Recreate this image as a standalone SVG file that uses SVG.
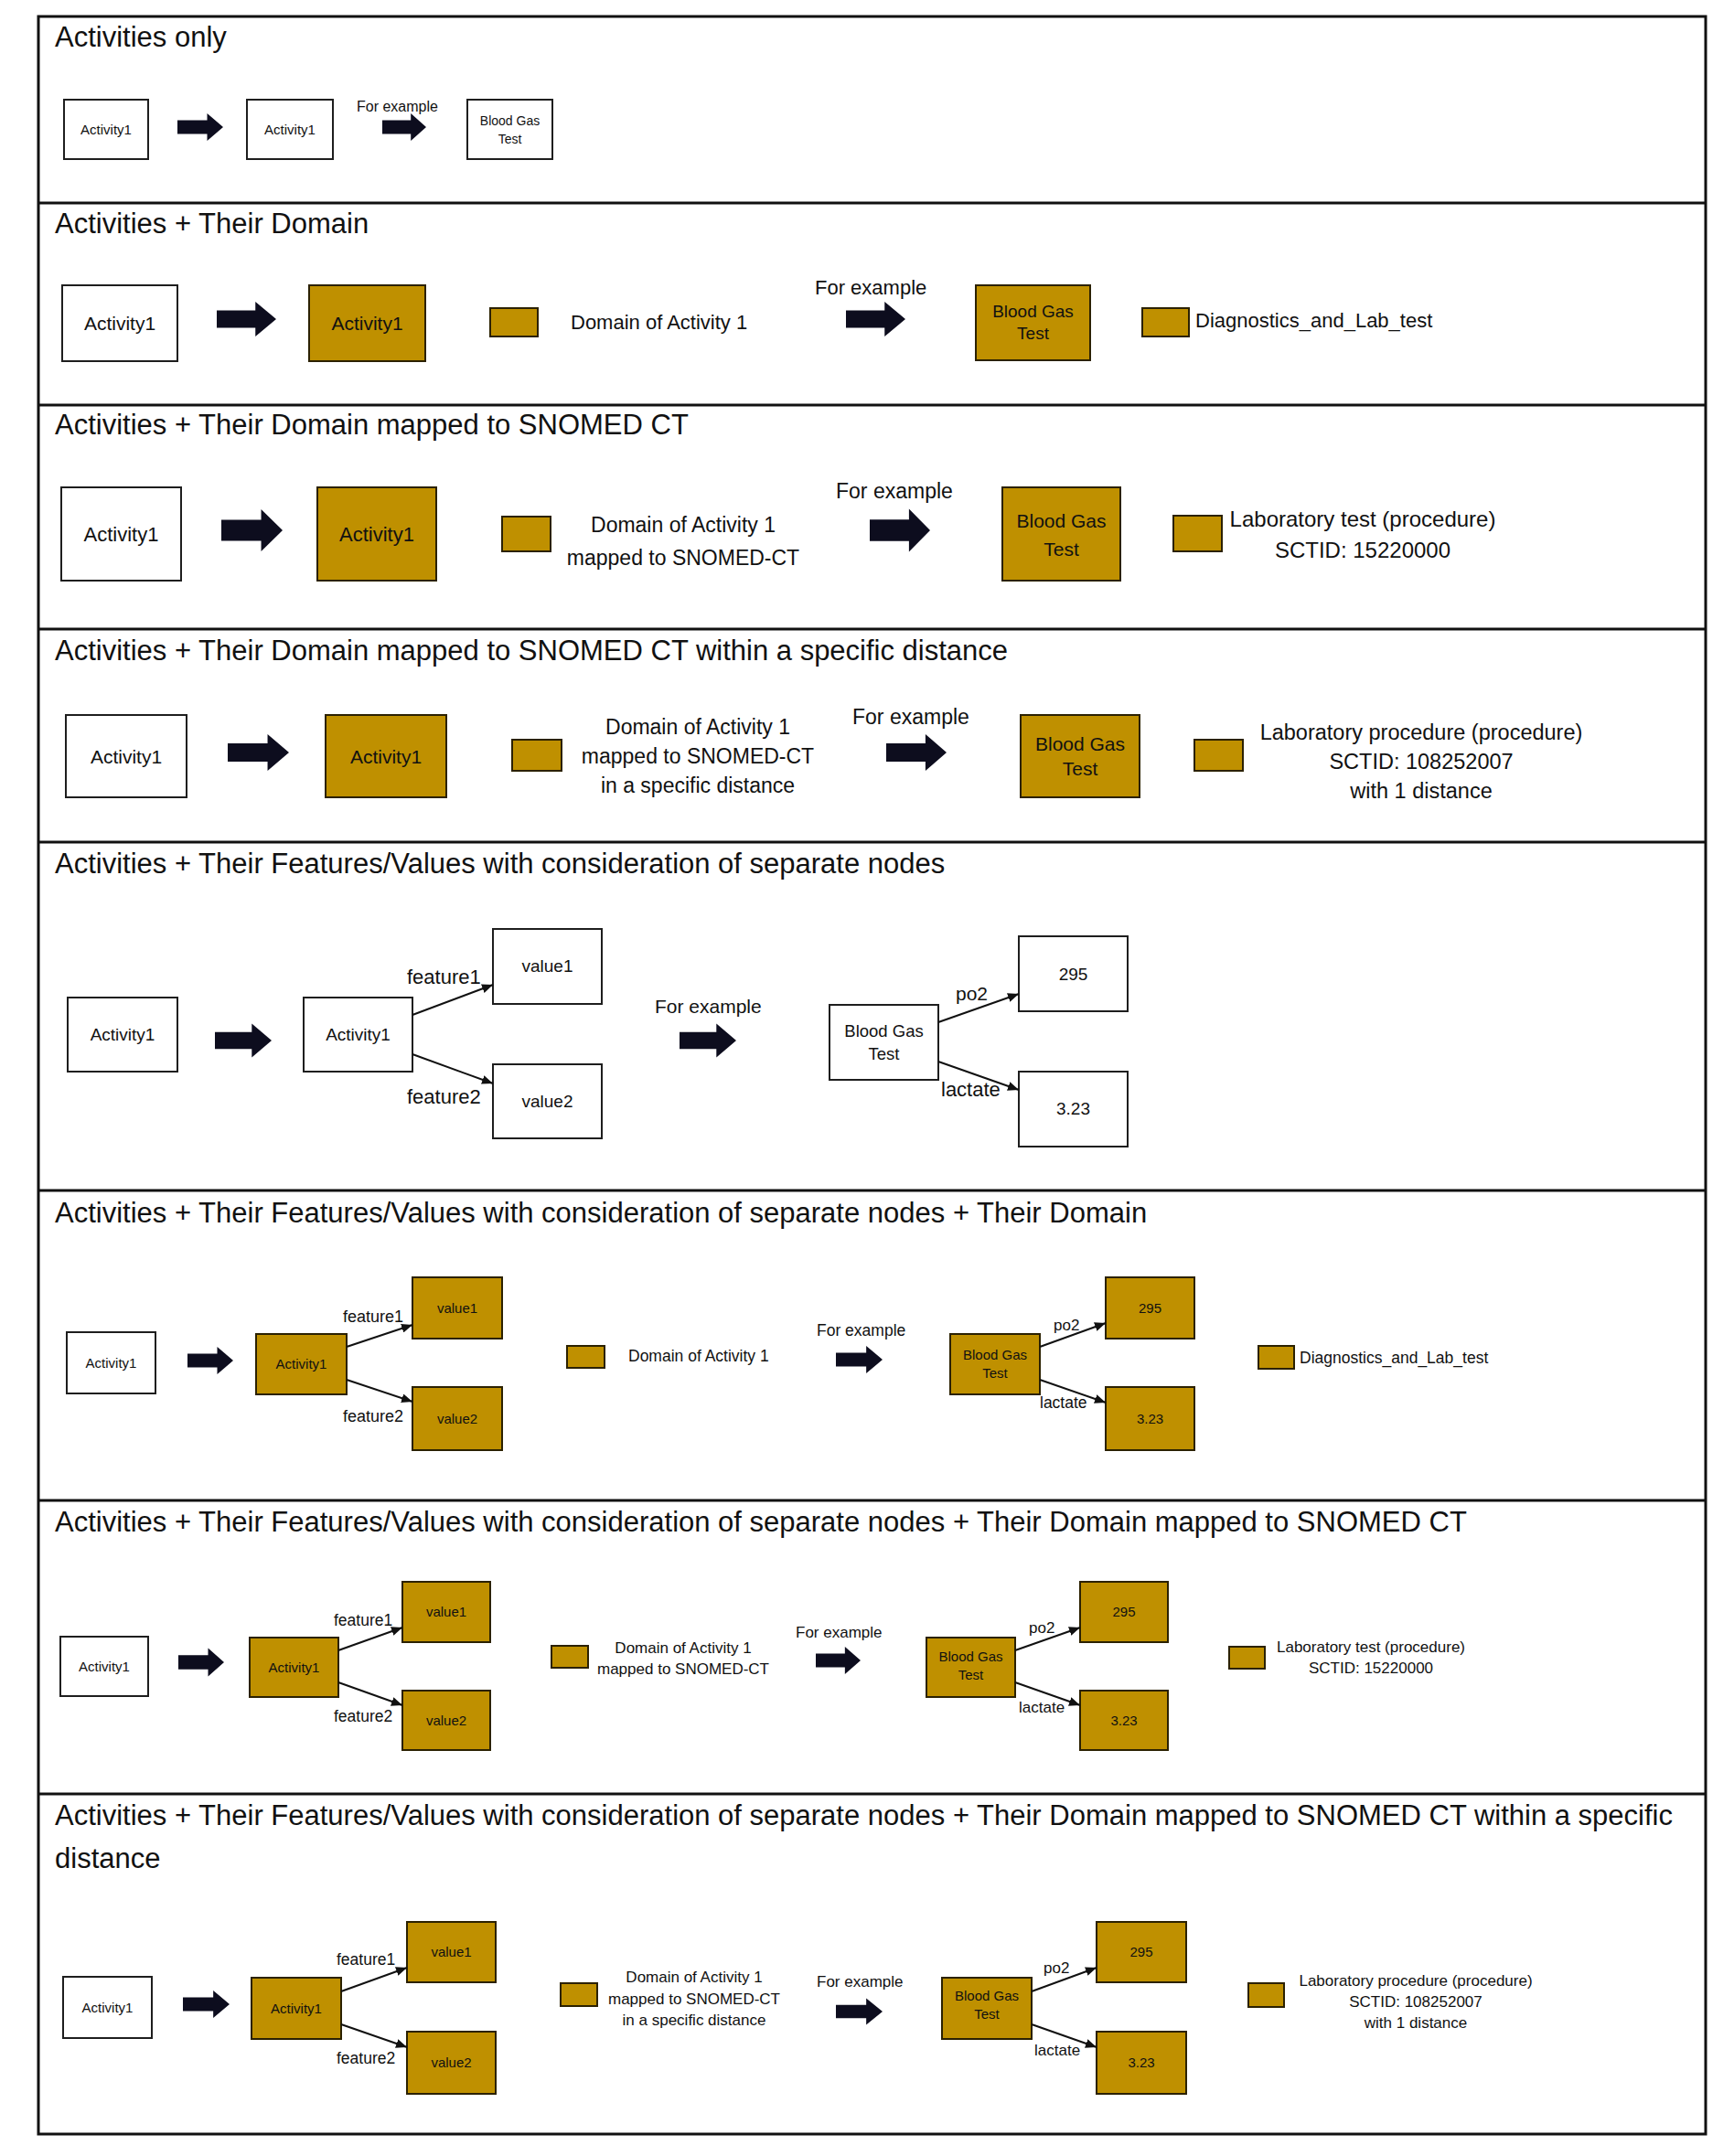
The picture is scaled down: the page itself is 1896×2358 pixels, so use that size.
<svg xmlns="http://www.w3.org/2000/svg" width="1896" height="2358" viewBox="0 0 1896 2358">
<defs>
<style>
text{font-family:"Liberation Sans",Arial,sans-serif;fill:#111}
.title{font-size:31px}
.m{text-anchor:middle}
.w{fill:#fff;stroke:#1e1e1e;stroke-width:2}
.g{fill:#BF9000;stroke:#2b2100;stroke-width:2}
.blk{fill:#0d0d1e}
.e{stroke:#111;stroke-width:2;fill:none;marker-end:url(#ah)}
.div{stroke:#111;stroke-width:3}
</style>
<marker id="ah" viewBox="0 0 12 10" refX="12" refY="5" markerWidth="12" markerHeight="10" markerUnits="userSpaceOnUse" orient="auto">
<path d="M0,0 L12,5 L0,10 z" fill="#111"/>
</marker>
<path id="ba" d="M0,-25 H65 V-50 L100,0 L65,50 V25 H0 Z"/>
</defs>
<rect width="1896" height="2358" fill="#fff"/>
<g id="frame">
<rect x="42" y="18" width="1823" height="2316" fill="none" stroke="#111" stroke-width="3"/>
<line class="div" x1="42" y1="222" x2="1865" y2="222"/>
<line class="div" x1="42" y1="443" x2="1865" y2="443"/>
<line class="div" x1="42" y1="688" x2="1865" y2="688"/>
<line class="div" x1="42" y1="921" x2="1865" y2="921"/>
<line class="div" x1="42" y1="1302" x2="1865" y2="1302"/>
<line class="div" x1="42" y1="1641" x2="1865" y2="1641"/>
<line class="div" x1="42" y1="1962" x2="1865" y2="1962"/>
</g>
<g id="titles">
<text class="title" x="60" y="51">Activities only</text>
<text class="title" x="60" y="255">Activities + Their Domain</text>
<text class="title" x="60" y="475">Activities + Their Domain mapped to SNOMED CT</text>
<text class="title" x="60" y="722">Activities + Their Domain mapped to SNOMED CT within a specific distance</text>
<text class="title" x="60" y="955">Activities + Their Features/Values with consideration of separate nodes</text>
<text class="title" x="60" y="1337">Activities + Their Features/Values with consideration of separate nodes + Their Domain</text>
<text class="title" x="60" y="1675">Activities + Their Features/Values with consideration of separate nodes + Their Domain mapped to SNOMED CT</text>
<text class="title" x="60" y="1996">Activities + Their Features/Values with consideration of separate nodes + Their Domain mapped to SNOMED CT within a specific</text>
<text class="title" x="60" y="2043">distance</text>
</g>

<!-- Section 1 -->
<g id="s1-act"><rect class="w" x="70" y="109" width="92" height="65"/><text class="m" x="116" y="147" font-size="15">Activity1</text></g>
<g id="s1-act2"><rect class="w" x="270" y="109" width="94" height="65"/><text class="m" x="317" y="147" font-size="15">Activity1</text></g>
<g id="s1-bgt"><rect class="w" x="511" y="109" width="93" height="65"/><text class="m" x="557.5" y="137" font-size="14">Blood Gas</text><text class="m" x="557.5" y="157" font-size="14">Test</text></g>
<text x="390" y="122" font-size="16">For example</text>

<!-- Section 2 -->
<g id="s2-act"><rect class="w" x="68" y="312" width="126" height="83"/><text class="m" x="131" y="361" font-size="21">Activity1</text></g>
<g id="s2-act2"><rect class="g" x="338" y="312" width="127" height="83"/><text class="m" x="401.5" y="361" font-size="21">Activity1</text></g>
<g id="s2-legend"><rect class="g" x="536" y="337" width="52" height="31"/><text x="624" y="360" font-size="22">Domain of Activity 1</text></g>
<text x="891" y="322" font-size="22">For example</text>
<g id="s2-bgt"><rect class="g" x="1067" y="312" width="125" height="82"/><text class="m" x="1129.5" y="347" font-size="19">Blood Gas</text><text class="m" x="1129.5" y="371" font-size="19">Test</text></g>
<g id="s2-legend2"><rect class="g" x="1249" y="337" width="51" height="31"/><text x="1307" y="358" font-size="22">Diagnostics_and_Lab_test</text></g>

<!-- Section 3 -->
<g id="s3-act"><rect class="w" x="67" y="533" width="131" height="102"/><text class="m" x="132.5" y="592" font-size="22">Activity1</text></g>
<g id="s3-act2"><rect class="g" x="347" y="533" width="130" height="102"/><text class="m" x="412" y="592" font-size="22">Activity1</text></g>
<g id="s3-legend"><rect class="g" x="549" y="565" width="53" height="38"/><text class="m" x="747" y="582" font-size="23">Domain of Activity 1</text><text class="m" x="747" y="618" font-size="23">mapped to SNOMED-CT</text></g>
<text x="914" y="545" font-size="23">For example</text>
<g id="s3-bgt"><rect class="g" x="1096" y="533" width="129" height="102"/><text class="m" x="1160.5" y="577" font-size="21">Blood Gas</text><text class="m" x="1160.5" y="608" font-size="21">Test</text></g>
<g id="s3-legend2"><rect class="g" x="1283" y="564" width="53" height="39"/><text class="m" x="1490" y="576" font-size="24">Laboratory test (procedure)</text><text class="m" x="1490" y="610" font-size="24">SCTID: 15220000</text></g>

<!-- Section 4 -->
<g id="s4-act"><rect class="w" x="72" y="782" width="132" height="90"/><text class="m" x="138" y="835" font-size="21">Activity1</text></g>
<g id="s4-act2"><rect class="g" x="356" y="782" width="132" height="90"/><text class="m" x="422" y="835" font-size="21">Activity1</text></g>
<g id="s4-legend"><rect class="g" x="560" y="809" width="54" height="34"/><text class="m" x="763" y="803" font-size="23">Domain of Activity 1</text><text class="m" x="763" y="835" font-size="23">mapped to SNOMED-CT</text><text class="m" x="763" y="867" font-size="23">in a specific distance</text></g>
<text x="932" y="792" font-size="23">For example</text>
<g id="s4-bgt"><rect class="g" x="1116" y="782" width="130" height="90"/><text class="m" x="1181" y="821" font-size="21">Blood Gas</text><text class="m" x="1181" y="848" font-size="21">Test</text></g>
<g id="s4-legend2"><rect class="g" x="1306" y="809" width="53" height="34"/><text class="m" x="1554" y="809" font-size="23.5">Laboratory procedure (procedure)</text><text class="m" x="1554" y="841" font-size="23.5">SCTID: 108252007</text><text class="m" x="1554" y="873" font-size="23.5">with 1 distance</text></g>

<!-- Section 5 -->
<g id="s5-act"><rect class="w" x="74" y="1091" width="120" height="81"/><text class="m" x="134" y="1138" font-size="19">Activity1</text></g>
<g id="s5-act2"><rect class="w" x="332" y="1091" width="119" height="81"/><text class="m" x="391.5" y="1138" font-size="19">Activity1</text></g>
<g id="s5-v1"><rect class="w" x="539" y="1016" width="119" height="82"/><text class="m" x="598.5" y="1063" font-size="19">value1</text></g>
<g id="s5-v2"><rect class="w" x="539" y="1164" width="119" height="81"/><text class="m" x="598.5" y="1211" font-size="19">value2</text></g>
<text x="716" y="1108" font-size="21">For example</text>
<g id="s5-bgt"><rect class="w" x="907" y="1099" width="119" height="82"/><text class="m" x="966.5" y="1134" font-size="18.5">Blood Gas</text><text class="m" x="966.5" y="1159" font-size="18.5">Test</text></g>
<g id="s5-295"><rect class="w" x="1114" y="1024" width="119" height="82"/><text class="m" x="1173.5" y="1072" font-size="19">295</text></g>
<g id="s5-323"><rect class="w" x="1114" y="1172" width="119" height="82"/><text class="m" x="1173.5" y="1219" font-size="19">3.23</text></g>

<!-- Section 6 -->
<g id="s6-act"><rect class="w" x="73" y="1457" width="97" height="67"/><text class="m" x="121.5" y="1496" font-size="15">Activity1</text></g>
<g id="s6-act2"><rect class="g" x="280" y="1459" width="99" height="66"/><text class="m" x="329.5" y="1497" font-size="15">Activity1</text></g>
<g id="s6-v1"><rect class="g" x="451" y="1397" width="98" height="67"/><text class="m" x="500" y="1436" font-size="15">value1</text></g>
<g id="s6-v2"><rect class="g" x="451" y="1517" width="98" height="69"/><text class="m" x="500" y="1557" font-size="15">value2</text></g>
<g id="s6-legend"><rect class="g" x="620" y="1472" width="41" height="24"/><text x="687" y="1489" font-size="17.5">Domain of Activity 1</text></g>
<text x="893" y="1461" font-size="17.5">For example</text>
<g id="s6-bgt"><rect class="g" x="1039" y="1459" width="98" height="66"/><text class="m" x="1088" y="1487" font-size="15">Blood Gas</text><text class="m" x="1088" y="1507" font-size="15">Test</text></g>
<g id="s6-295"><rect class="g" x="1209" y="1397" width="97" height="67"/><text class="m" x="1257.5" y="1436" font-size="15">295</text></g>
<g id="s6-323"><rect class="g" x="1209" y="1517" width="97" height="69"/><text class="m" x="1257.5" y="1557" font-size="15">3.23</text></g>
<g id="s6-legend2"><rect class="g" x="1376" y="1472" width="39" height="25"/><text x="1421" y="1491" font-size="17.5">Diagnostics_and_Lab_test</text></g>

<!-- Section 7 -->
<g id="s7-act"><rect class="w" x="66" y="1790" width="96" height="65"/><text class="m" x="114" y="1828" font-size="15">Activity1</text></g>
<g id="s7-act2"><rect class="g" x="273" y="1791" width="97" height="65"/><text class="m" x="321.5" y="1829" font-size="15">Activity1</text></g>
<g id="s7-v1"><rect class="g" x="440" y="1730" width="96" height="66"/><text class="m" x="488" y="1768" font-size="15">value1</text></g>
<g id="s7-v2"><rect class="g" x="440" y="1849" width="96" height="65"/><text class="m" x="488" y="1887" font-size="15">value2</text></g>
<g id="s7-legend"><rect class="g" x="603" y="1800" width="40" height="24"/><text class="m" x="747" y="1808" font-size="17">Domain of Activity 1</text><text class="m" x="747" y="1831" font-size="17">mapped to SNOMED-CT</text></g>
<text x="870" y="1791" font-size="17">For example</text>
<g id="s7-bgt"><rect class="g" x="1013" y="1791" width="97" height="65"/><text class="m" x="1061.5" y="1817" font-size="15">Blood Gas</text><text class="m" x="1061.5" y="1837" font-size="15">Test</text></g>
<g id="s7-295"><rect class="g" x="1181" y="1730" width="96" height="66"/><text class="m" x="1229" y="1768" font-size="15">295</text></g>
<g id="s7-323"><rect class="g" x="1181" y="1849" width="96" height="65"/><text class="m" x="1229" y="1887" font-size="15">3.23</text></g>
<g id="s7-legend2"><rect class="g" x="1344" y="1801" width="39" height="24"/><text class="m" x="1499" y="1807" font-size="17">Laboratory test (procedure)</text><text class="m" x="1499" y="1830" font-size="17">SCTID: 15220000</text></g>

<!-- Section 8 -->
<g id="s8-act"><rect class="w" x="69" y="2162" width="97" height="67"/><text class="m" x="117.5" y="2201" font-size="15">Activity1</text></g>
<g id="s8-act2"><rect class="g" x="275" y="2163" width="98" height="67"/><text class="m" x="324" y="2202" font-size="15">Activity1</text></g>
<g id="s8-v1"><rect class="g" x="445" y="2102" width="97" height="66"/><text class="m" x="493.5" y="2140" font-size="15">value1</text></g>
<g id="s8-v2"><rect class="g" x="445" y="2222" width="97" height="68"/><text class="m" x="493.5" y="2261" font-size="15">value2</text></g>
<g id="s8-legend"><rect class="g" x="613" y="2169" width="40" height="25"/><text class="m" x="759" y="2168" font-size="17">Domain of Activity 1</text><text class="m" x="759" y="2192" font-size="17">mapped to SNOMED-CT</text><text class="m" x="759" y="2215" font-size="17">in a specific distance</text></g>
<text x="893" y="2173" font-size="17">For example</text>
<g id="s8-bgt"><rect class="g" x="1030" y="2163" width="98" height="67"/><text class="m" x="1079" y="2188" font-size="15">Blood Gas</text><text class="m" x="1079" y="2208" font-size="15">Test</text></g>
<g id="s8-295"><rect class="g" x="1199" y="2102" width="98" height="66"/><text class="m" x="1248" y="2140" font-size="15">295</text></g>
<g id="s8-323"><rect class="g" x="1199" y="2222" width="98" height="68"/><text class="m" x="1248" y="2261" font-size="15">3.23</text></g>
<g id="s8-legend2"><rect class="g" x="1365" y="2169" width="39" height="26"/><text class="m" x="1548" y="2172" font-size="17">Laboratory procedure (procedure)</text><text class="m" x="1548" y="2195" font-size="17">SCTID: 108252007</text><text class="m" x="1548" y="2218" font-size="17">with 1 distance</text></g>

<g id="connectors">
<g class="blk">
<use href="#ba" transform="translate(194,139) scale(0.5,0.3)"/>
<use href="#ba" transform="translate(418,139) scale(0.48,0.3)"/>
<use href="#ba" transform="translate(237,349) scale(0.65,0.38)"/>
<use href="#ba" transform="translate(925,349) scale(0.65,0.38)"/>
<use href="#ba" transform="translate(242,580) scale(0.67,0.46)"/>
<use href="#ba" transform="translate(951,580) scale(0.66,0.47)"/>
<use href="#ba" transform="translate(249,823) scale(0.67,0.40)"/>
<use href="#ba" transform="translate(969,823) scale(0.66,0.40)"/>
<use href="#ba" transform="translate(235,1138) scale(0.62,0.37)"/>
<use href="#ba" transform="translate(743,1138) scale(0.62,0.37)"/>
<use href="#ba" transform="translate(205,1488) scale(0.5,0.30)"/>
<use href="#ba" transform="translate(914,1487) scale(0.51,0.30)"/>
<use href="#ba" transform="translate(195,1818) scale(0.5,0.31)"/>
<use href="#ba" transform="translate(892,1816) scale(0.49,0.30)"/>
<use href="#ba" transform="translate(200,2192) scale(0.51,0.30)"/>
<use href="#ba" transform="translate(914,2200) scale(0.51,0.29)"/>
</g>
<path class="e" d="M451,1110 L539,1077"/>
<path class="e" d="M451,1153 L539,1185"/>
<path class="e" d="M1026,1118 L1114,1087"/>
<path class="e" d="M1026,1161 L1114,1192"/>
<path class="e" d="M379,1473 L451,1449"/>
<path class="e" d="M379,1509 L451,1533"/>
<path class="e" d="M1137,1473 L1209,1447"/>
<path class="e" d="M1137,1509 L1209,1534"/>
<path class="e" d="M370,1805 L440,1780"/>
<path class="e" d="M370,1840 L440,1865"/>
<path class="e" d="M1110,1805 L1181,1780"/>
<path class="e" d="M1110,1840 L1181,1865"/>
<path class="e" d="M373,2178 L445,2152"/>
<path class="e" d="M373,2214 L445,2239"/>
<path class="e" d="M1128,2178 L1199,2152"/>
<path class="e" d="M1128,2214 L1199,2239"/>
<text x="445" y="1076" font-size="22">feature1</text>
<text x="445" y="1207" font-size="22">feature2</text>
<text x="1045" y="1094" font-size="21">po2</text>
<text x="1029" y="1199" font-size="22">lactate</text>
<text x="375" y="1446" font-size="18">feature1</text>
<text x="375" y="1555" font-size="18">feature2</text>
<text x="1152" y="1455" font-size="17">po2</text>
<text x="1137" y="1540" font-size="17.5">lactate</text>
<text x="365" y="1778" font-size="17.5">feature1</text>
<text x="365" y="1883" font-size="17.5">feature2</text>
<text x="1125" y="1786" font-size="17">po2</text>
<text x="1114" y="1873" font-size="17">lactate</text>
<text x="368" y="2149" font-size="17.5">feature1</text>
<text x="368" y="2257" font-size="17.5">feature2</text>
<text x="1141" y="2158" font-size="17">po2</text>
<text x="1131" y="2248" font-size="17">lactate</text>
</g>
</svg>
